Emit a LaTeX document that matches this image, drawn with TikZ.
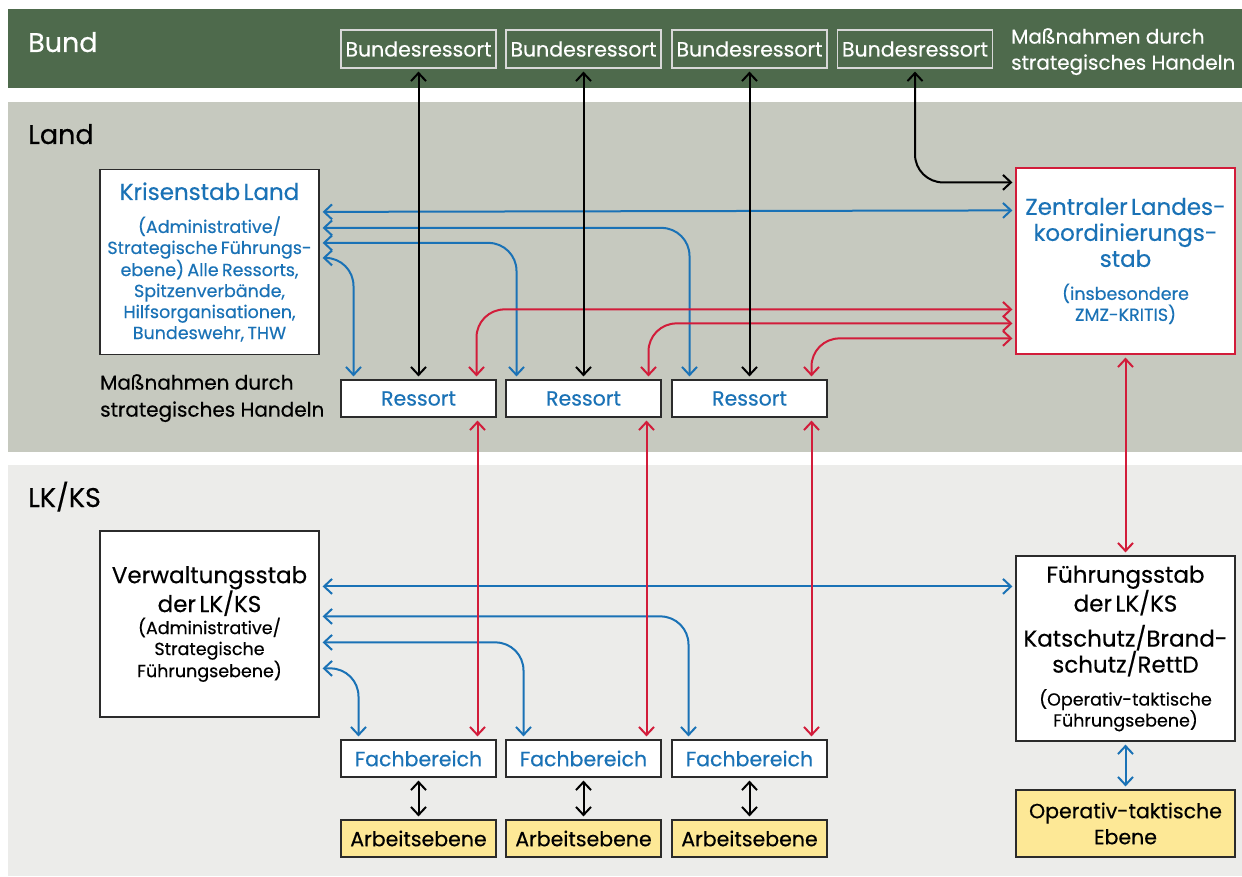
\documentclass[tikz,border=0pt]{standalone}
\usepackage{fontspec}
\setmainfont{Poppins}[FakeBold=0.4]
\usepackage{tikz}
\usetikzlibrary{arrows.meta}
\usetikzlibrary{calc}

\definecolor{bundgreen}{HTML}{4E6A4C}
\definecolor{landgray}{HTML}{C6C9BF}
\definecolor{kreisgray}{HTML}{ECECEA}
\definecolor{lineblue}{HTML}{1A72B6}
\definecolor{linered}{HTML}{D21C3A}
\definecolor{boxyellow}{HTML}{FDE896}
\definecolor{framegray}{HTML}{D8D8D8}
\definecolor{boxframe}{HTML}{2B2B2B}

\newcommand{\bandf}{\fontsize{27}{32}\selectfont}
\newcommand{\titlef}{\fontsize{23}{26}\selectfont}
\newcommand{\bodyf}{\fontsize{17.5}{21}\selectfont}
\newcommand{\boxf}{\fontsize{20.5}{26}\selectfont}

\tikzset{
	smallbox/.style={draw=boxframe, fill=white, line width=1.2pt, minimum width=155pt, minimum height=37pt, inner sep=0pt, font=\boxf},
	bigbox/.style={draw=boxframe, fill=white, line width=1.2pt, minimum width=219pt, minimum height=185pt, inner sep=0pt, text width=217pt, align=center},
	link/.style={line width=2pt, {Straight Barb[length=8pt,width=15pt]}-{Straight Barb[length=8pt,width=15pt]}, shorten <=3pt, shorten >=3pt, rounded corners=28pt},
}

\begin{document}
\begin{tikzpicture}[x=1pt,y=-1pt]
	\useasboundingbox (0,0) rectangle (1242,877);

	% Ebenen
	\fill[bundgreen] (8,9) rectangle (1242,88);
	\fill[landgray] (8,102) rectangle (1242,452);
	\fill[kreisgray] (8,465) rectangle (1242,876);

	\node[anchor=base west, inner sep=0pt, white, font=\bandf] (bund) at (28,52) {Bund};
	\node[anchor=base west, inner sep=0pt, font=\bandf] (land) at (28,144) {Land};
	\node[anchor=base west, inner sep=0pt, font=\bandf] (lkks) at (28,507) {LK/KS};

	\node[anchor=north west, inner sep=0pt, align=left, white, font=\fontsize{20}{26}\selectfont] (massbund) at (1011,28) {Maßnahmen durch\\strategisches Handeln};
	\node[anchor=north west, inner sep=0pt, align=left, font=\fontsize{20}{27}\selectfont] (massland) at (100,374) {Maßnahmen durch\\strategisches Handeln};

	% Bund
	\begin{scope}[every node/.style={smallbox, draw=framegray, fill=none, text=white, minimum height=38pt}]
		\node (bund1) at (418.5,49) {Bundesressort};
		\node (bund2) at (583.5,49) {Bundesressort};
		\node (bund3) at (749.5,49) {Bundesressort};
		\node (bund4) at (915,49) {Bundesressort};
	\end{scope}

	% Land
	\node[bigbox, text=lineblue] (krisen) at (209.5,262)
		{{\titlef Krisenstab Land\par}\vspace{12pt}{\bodyf (Administrative/\\Strategische Führungs-\\ebene) Alle Ressorts,\\Spitzenverbände,\\Hilfsorganisationen,\\Bundeswehr, THW\par}};
	\node[bigbox, draw=linered, text=lineblue, minimum height=186pt] (zentral) at (1125.5,261)
		{{\titlef Zentraler Landes-\\koordinierungs-\\stab\par}\vspace{12pt}{\bodyf (insbesondere\\ZMZ-KRITIS)\par}};
	\begin{scope}[every node/.style={smallbox, text=lineblue}]
		\node (res1) at (418.5,398.5) {Ressort};
		\node (res2) at (583.5,398.5) {Ressort};
		\node (res3) at (749.5,398.5) {Ressort};
	\end{scope}

	% LK/KS
	\node[bigbox, minimum height=186pt] (verw) at (209.5,624)
		{{\titlef Verwaltungsstab\\der LK/KS\par}\vspace{1pt}{\bodyf (Administrative/\\Strategische\\Führungsebene)\par}};
	\node[bigbox] (fuehr) at (1125.5,648.5)
		{{\titlef Führungsstab\\der LK/KS\par}\vspace{9pt}{\titlef Katschutz/Brand-\\schutz/RettD\par}\vspace{12pt}{\bodyf (Operativ-taktische\\Führungsebene)\par}};
	\node[smallbox, fill=boxyellow, minimum width=219pt, minimum height=67pt, align=center] (optak) at (1125.5,823.5)
		{Operativ-taktische\\Ebene};
	\begin{scope}[every node/.style={smallbox, text=lineblue}]
		\node (fach1) at (418.5,758.5) {Fachbereich};
		\node (fach2) at (583.5,758.5) {Fachbereich};
		\node (fach3) at (749.5,758.5) {Fachbereich};
	\end{scope}
	\begin{scope}[every node/.style={smallbox, fill=boxyellow}]
		\node (arb1) at (418.5,838.5) {Arbeitsebene};
		\node (arb2) at (583.5,838.5) {Arbeitsebene};
		\node (arb3) at (749.5,838.5) {Arbeitsebene};
	\end{scope}

	% Verbindungen
	\begin{scope}[link, lineblue]
		\draw ([yshift=-43pt]krisen.north east) -- ([yshift=-43pt]zentral.north west);
		\draw ([yshift=-59pt]krisen.north east) -| ([xshift=-60pt]res3.north);
		\draw ([yshift=-74pt]krisen.north east) -| ([xshift=-67pt]res2.north);
		\draw ([yshift=-89pt]krisen.north east) -| ([xshift=-65pt]res1.north);
		\draw ([yshift=-56pt]verw.north east) -- ([yshift=-31pt]fuehr.north west);
		\draw ([yshift=-86pt]verw.north east) -| ([xshift=-61pt]fach3.north);
		\draw ([yshift=-112pt]verw.north east) -| ([xshift=-60pt]fach2.north);
		\draw ([yshift=-138pt]verw.north east) -| ([xshift=-60pt]fach1.north);
		\draw (fuehr) -- (optak);
	\end{scope}

	\begin{scope}[link, linered]
		\draw ([yshift=-142pt]zentral.north west) -| ([xshift=58pt]res1.north);
		\draw ([yshift=-156pt]zentral.north west) -| ([xshift=65pt]res2.north);
		\draw ([yshift=-171pt]zentral.north west) -| ([xshift=62pt]res3.north);
		\draw ([xshift=59pt]res1.south) -- ([xshift=59pt]fach1.north);
		\draw ([xshift=63pt]res2.south) -- ([xshift=63pt]fach2.north);
		\draw ([xshift=62pt]res3.south) -- ([xshift=62pt]fach3.north);
		\draw (zentral) -- (fuehr);
	\end{scope}

	\begin{scope}[link, black]
		\draw (bund1) -- (res1);
		\draw (bund2) -- (res2);
		\draw (bund3) -- (res3);
		\draw (bund4.south) |- ([yshift=-15pt]zentral.north west);
		\draw (fach1) -- (arb1);
		\draw (fach2) -- (arb2);
		\draw (fach3) -- (arb3);
	\end{scope}
\end{tikzpicture}
\end{document}
